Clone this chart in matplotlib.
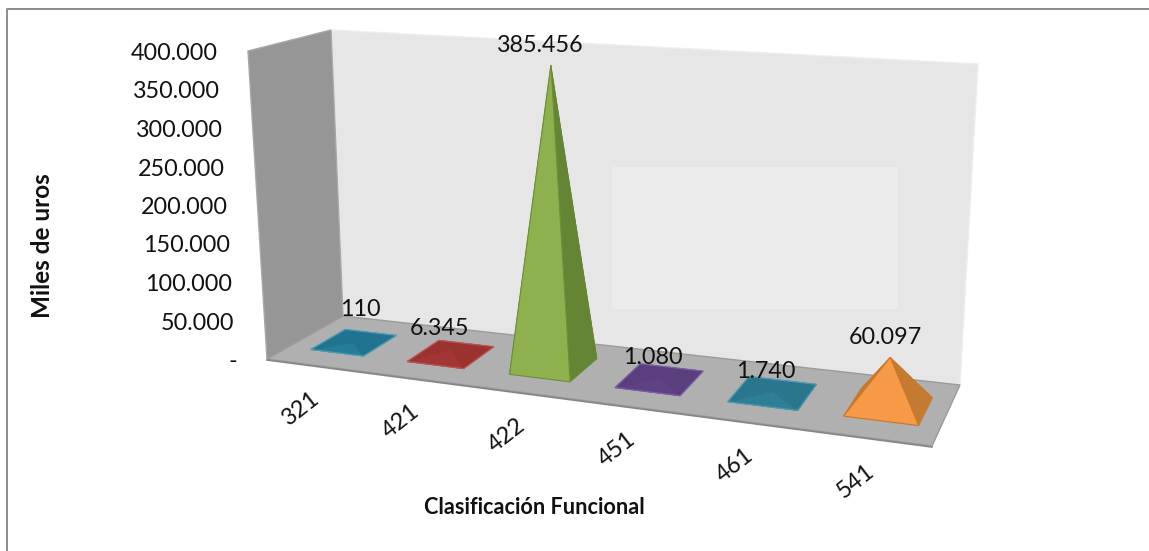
import numpy as np
import matplotlib
matplotlib.use("Agg")
import matplotlib.pyplot as plt
from matplotlib.patches import Polygon

plt.rcParams['font.family'] = ['Lato', 'DejaVu Sans']

categories = ['321', '421', '422', '451', '461', '541']
values = [110, 6345, 385456, 1080, 1740, 60097]
value_labels = ['110', '6.345', '385.456', '1.080', '1.740', '60.097']
y_ticks = [0, 50000, 100000, 150000, 200000, 250000, 300000, 350000, 400000]
y_tick_labels = ['-', '50.000', '100.000', '150.000', '200.000', '250.000',
                 '300.000', '350.000', '400.000']

front_colors = ['#237c98', '#a33634', '#8fb04e', '#5f4284', '#2e7e95', '#f79a48']
side_colors = ['#20748f', '#9a3230', '#648534', '#5a3e7e', '#2a778d', '#c47a31']
edge_colors = ['#4f9db5', '#b85452', '#6d8f38', '#7a60a0', '#4d9ab0', '#c9762b']

# where the box sits in the picture (pixels)
FLOOR = {'fl': (267, 359), 'bl': (343, 316), 'br': (960, 385), 'fr': (932, 446)}
UP = {'fl': (-19, -308), 'bl': (-12, -286), 'br': (18, -321), 'fr': (8.5, -345)}
Y_MAX = 400000
HALF_W = 0.29
HALF_D = 0.23
FONT = 16.8
nudges = [0.04, 0.085, 0.12, 0.115, 0.105, 0.05]
label_offsets = [(6, -33), (-11, -21), (-11, -20), (-7, -21), (-7, -20), (-5, -20)]


def floor_matrix():
    # homography from floor (s, t) to pixels, s = 0..6 along categories, t = 0..1 depth
    src = [(0, 0), (0, 1), (6, 1), (6, 0)]
    dst = [FLOOR['fl'], FLOOR['bl'], FLOOR['br'], FLOOR['fr']]
    a, b = [], []
    for (s, t), (x, y) in zip(src, dst):
        a.append([s, t, 1, 0, 0, 0, -s * x, -t * x])
        a.append([0, 0, 0, s, t, 1, -s * y, -t * y])
        b += [x, y]
    h = np.linalg.solve(np.array(a, float), np.array(b, float))
    return np.append(h, 1).reshape(3, 3)


H = floor_matrix()


def project(s, t, z=0.0):
    p = H @ np.array([s, t, 1.0])
    p = p[:2] / p[2]
    u, v = s / 6.0, t
    up = ((1 - u) * (1 - v) * np.array(UP['fl']) + (1 - u) * v * np.array(UP['bl'])
          + u * v * np.array(UP['br']) + u * (1 - v) * np.array(UP['fr']))
    return p + up * z / Y_MAX


fig = plt.figure(figsize=(11.49, 5.51), dpi=100)
ax = fig.add_axes([0, 0, 1, 1])
ax.set_xlim(0, 1149)
ax.set_ylim(551, 0)
ax.axis('off')

# outer frame
ax.plot([6.5, 6.5, 1149], [551, 9, 9], color='#8c8c8c', lw=1.4, zorder=1)

# walls and floor
back = [project(0, 1), project(6, 1), project(6, 1, Y_MAX), project(0, 1, Y_MAX)]
left = [project(0, 0), project(0, 1), project(0, 1, Y_MAX), project(0, 0, Y_MAX)]
floor = [project(0, 0), project(0, 1), project(6, 1), project(6, 0)]
ax.add_patch(Polygon(back, fc='#e6e6e6', ec='#eeeeee', lw=1, zorder=2))
ax.add_patch(Polygon(left, fc='#969696', ec='#a8a8a8', lw=1, zorder=3))
ax.add_patch(Polygon(floor, fc='#b0b0b0', ec='#9a9a9a', lw=1, zorder=3))
# lighter patch on the back wall
ax.fill([612, 898, 898, 612], [167, 167, 309, 309], color='#ececec', lw=0, zorder=2.5)
fl, fr = project(0, 0), project(6, 0)
ax.plot([fl[0], fr[0]], [fl[1] + 1, fr[1] + 1], color='#858585', lw=1.2, zorder=3)

# pyramids
for i, val in enumerate(values):
    mid = i + 0.5 + nudges[i]
    s0, s1 = mid - HALF_W, mid + HALF_W
    t0, t1 = 0.5 - HALF_D, 0.5 + HALF_D
    a = project(s0, t0)
    b = project(s1, t0)
    c = project(s1, t1)
    d = project(s0, t1)
    apex = project(mid, 0.5, val)
    flat = val < 10000
    inner = side_colors[i]
    ax.add_patch(Polygon([d, c, apex], fc=side_colors[i], ec=inner, lw=0.5, zorder=4))
    ax.add_patch(Polygon([a, d, apex], fc=side_colors[i], ec=inner, lw=0.5, zorder=4.1))
    ax.add_patch(Polygon([b, c, apex], fc=side_colors[i], ec=inner, lw=0.5, zorder=4.2))
    ax.add_patch(Polygon([a, b, apex], fc=front_colors[i],
                         ec=inner if flat else edge_colors[i], lw=0.8, zorder=4.3))
    if flat:
        ax.add_patch(Polygon([a, b, c, d], fc='none', ec=edge_colors[i], lw=0.9, zorder=4.4))
    dx, dy = label_offsets[i]
    ax.text(apex[0] + dx, apex[1] + dy, value_labels[i], ha='center', va='center',
            fontsize=FONT, color='#111111', zorder=6)
    q = project(mid, 0)
    ax.text(q[0] - 15, q[1] + 43, categories[i], rotation=38, ha='center', va='center',
            rotation_mode='anchor', fontsize=FONT, color='#111111', zorder=6)

# y ticks follow the front left edge of the wall
for tick, lab in zip(y_ticks, y_tick_labels):
    p = project(0, 0, tick)
    ax.text(p[0] - 30, p[1] + 2.5, lab, ha='right', va='center', fontsize=FONT,
            color='#111111', zorder=6)

ax.text(42, 246, 'Miles de uros', rotation=90, ha='center', va='center',
        fontsize=17.5, fontweight='bold', color='#111111')
ax.text(534, 508, 'Clasificación Funcional', ha='center', va='center',
        fontsize=15.6, fontweight='bold', color='#111111')

fig.savefig('out.png', dpi=100)
